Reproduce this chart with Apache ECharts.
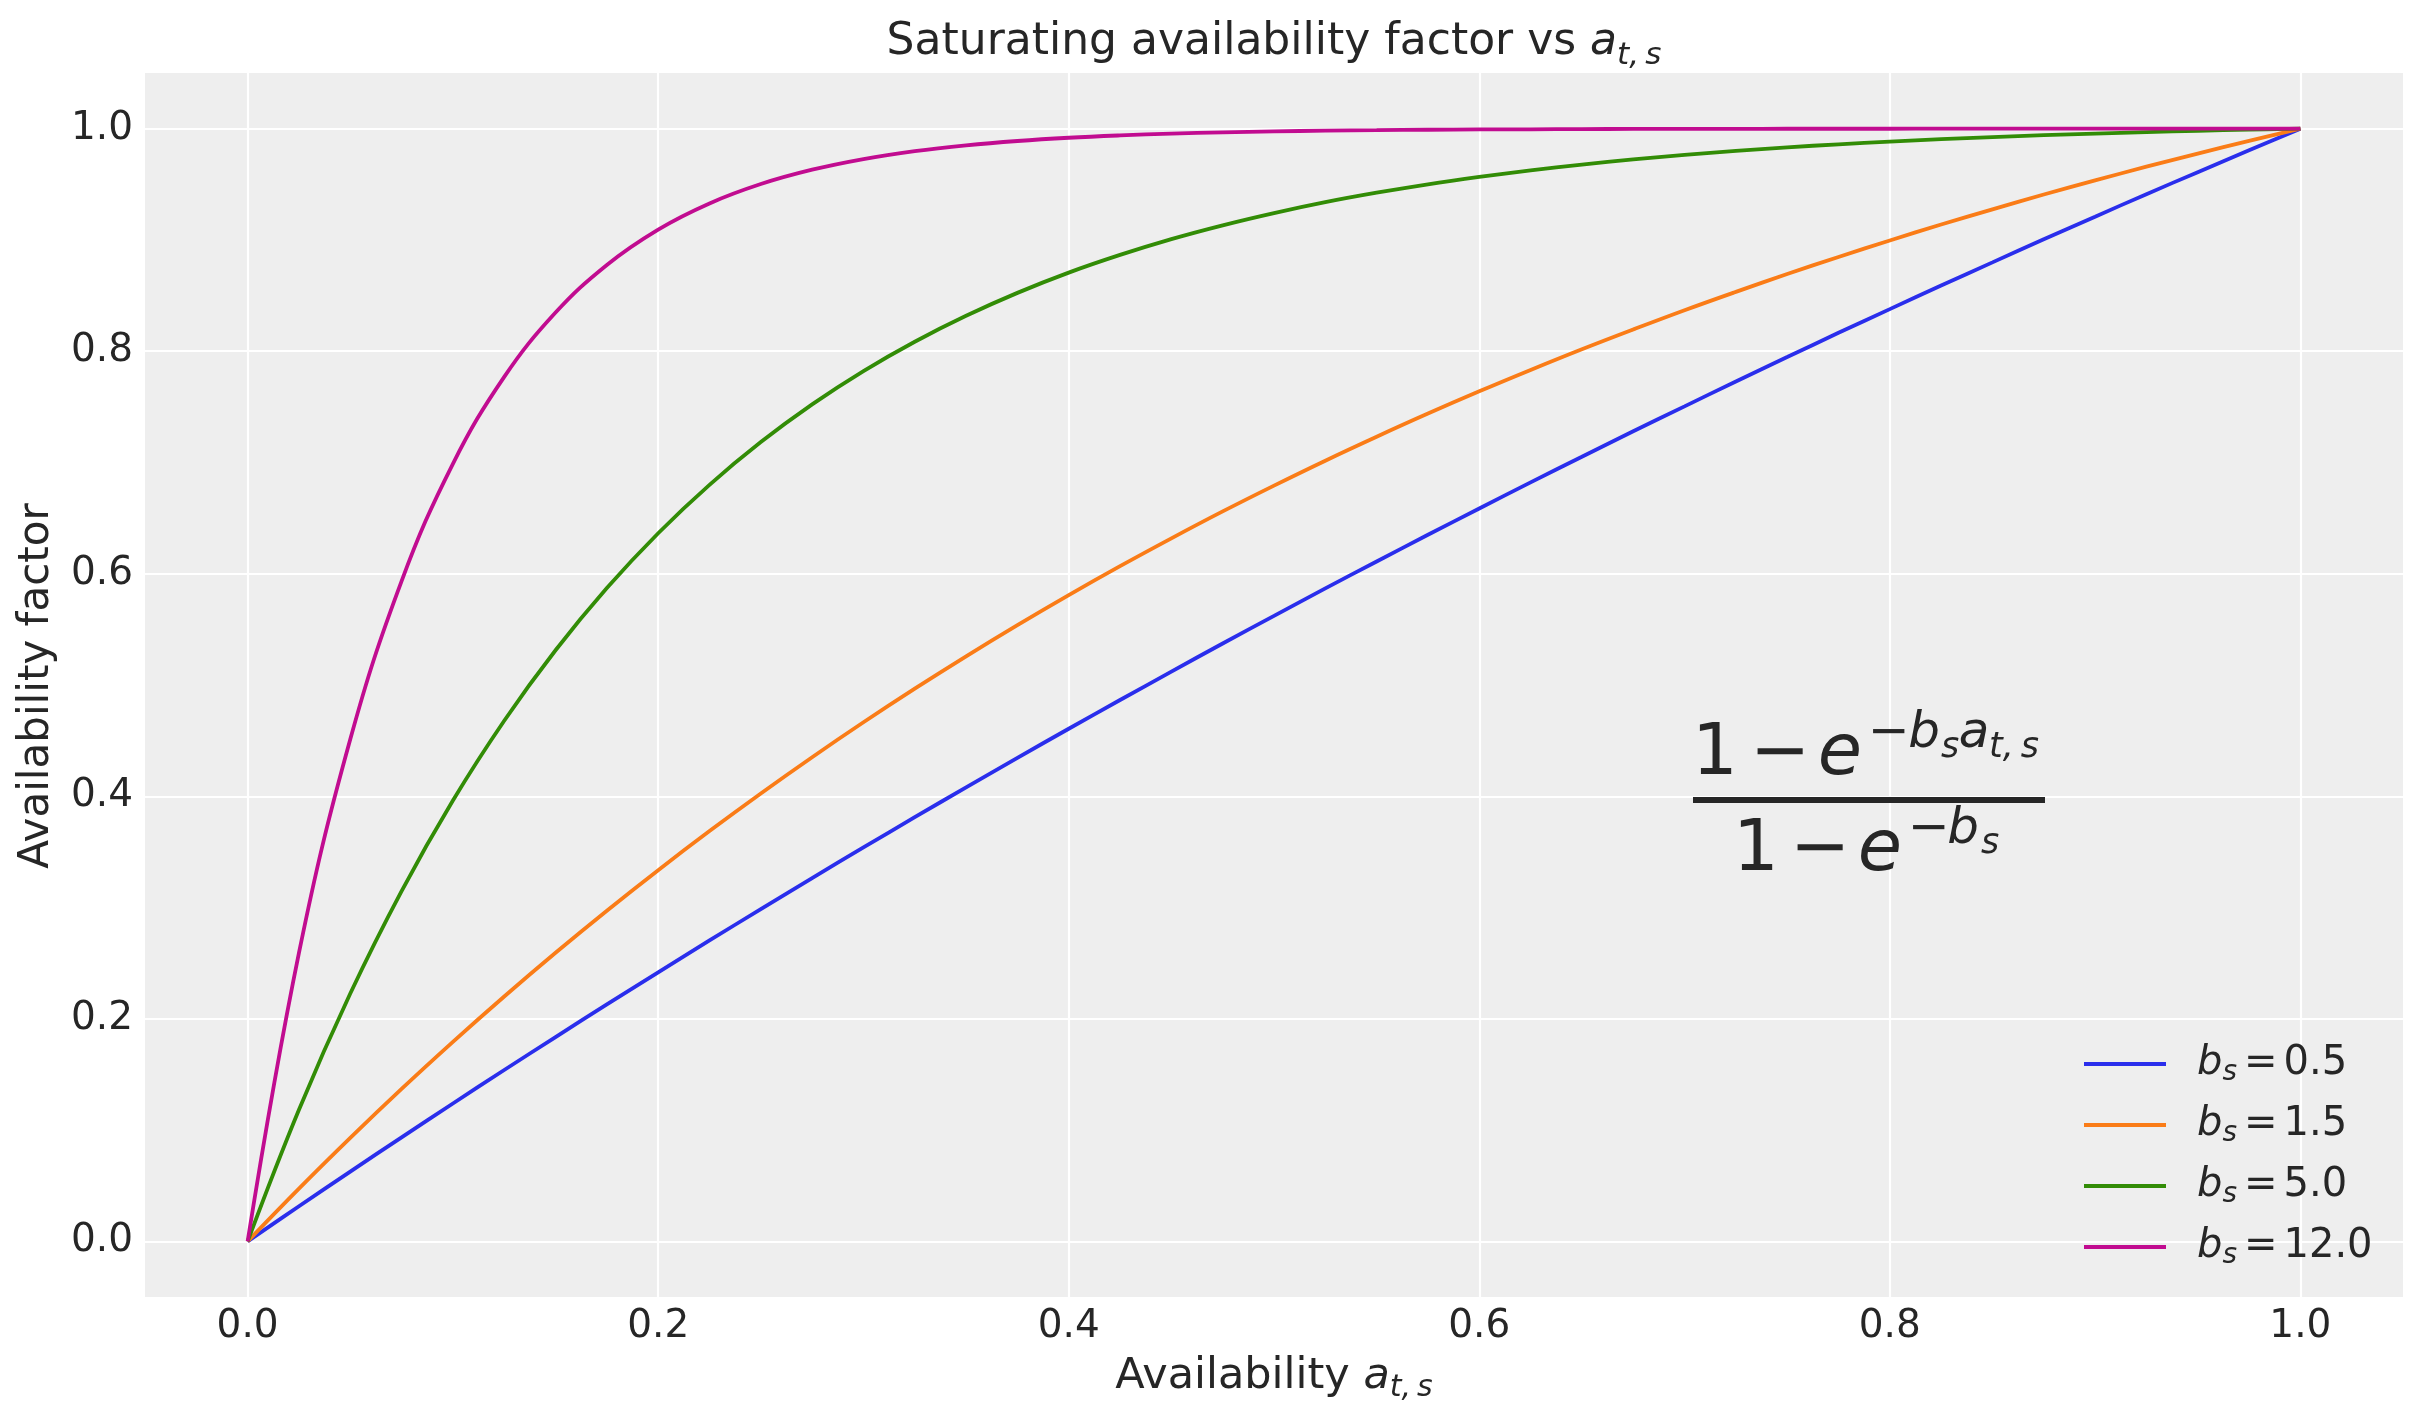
<!DOCTYPE html>
<html>
<head>
<meta charset="utf-8">
<script src="https://cdn.jsdelivr.net/npm/echarts@6/dist/echarts.min.js"></script>
<style>
  html, body { margin: 0; padding: 0; background: #ffffff; }
  #chart { width: 2423px; height: 1423px; }
</style>
</head>
<body>
<div id="chart"></div>
<script>
// values, every 0.025 along the x axis
var availability = [0, 0.025, 0.05, 0.075, 0.1, 0.125, 0.15, 0.175, 0.2, 0.225, 0.25, 0.275, 0.3, 0.325, 0.35, 0.375, 0.4, 0.425, 0.45, 0.475, 0.5,
    0.525, 0.55, 0.575, 0.6, 0.625, 0.65, 0.675, 0.7, 0.725, 0.75, 0.775, 0.8, 0.825, 0.85, 0.875, 0.9, 0.925, 0.95, 0.975, 1.0];
var factorB05 = [0, 0.0316, 0.0627, 0.0935, 0.1239, 0.1540, 0.1836, 0.2129, 0.2418, 0.2704, 0.2986, 0.3265, 0.3540, 0.3812, 0.4080, 0.4345, 0.4607, 0.4865, 0.5120, 0.5373, 0.5621,
    0.5868, 0.6110, 0.6350, 0.6586, 0.6821, 0.7051, 0.7280, 0.7504, 0.7728, 0.7947, 0.8165, 0.8378, 0.8590, 0.8798, 0.9006, 0.9209, 0.9411, 0.9609, 0.9806, 1.0];
var factorB15 = [0, 0.0474, 0.0930, 0.1370, 0.1793, 0.2201, 0.2594, 0.2972, 0.3336, 0.3687, 0.4025, 0.4351, 0.4665, 0.4967, 0.5258, 0.5538, 0.5808, 0.6068, 0.6318, 0.6560, 0.6792,
    0.7016, 0.7231, 0.7439, 0.7639, 0.7831, 0.8017, 0.8195, 0.8368, 0.8533, 0.8693, 0.8847, 0.8995, 0.9138, 0.9275, 0.9408, 0.9535, 0.9658, 0.9776, 0.9890, 1.0];
var factorB5 = [0, 0.1183, 0.2227, 0.3148, 0.3962, 0.4679, 0.5312, 0.5871, 0.6364, 0.6799, 0.7183, 0.7522, 0.7821, 0.8085, 0.8318, 0.8524, 0.8706, 0.8865, 0.9007, 0.9131, 0.9241,
    0.9339, 0.9424, 0.9500, 0.9566, 0.9625, 0.9677, 0.9723, 0.9764, 0.9800, 0.9832, 0.9859, 0.9884, 0.9905, 0.9924, 0.9941, 0.9956, 0.9969, 0.9981, 0.9991, 1.0];
var factorB12 = [0, 0.2592, 0.4512, 0.5934, 0.6988, 0.7769, 0.8347, 0.8775, 0.9093, 0.9328, 0.9502, 0.9631, 0.9727, 0.9798, 0.9850, 0.9889, 0.9918, 0.9939, 0.9955, 0.9967, 0.9975,
    0.9982, 0.9986, 0.9990, 0.9993, 0.9994, 0.9996, 0.9997, 0.9998, 0.9998, 0.9999, 0.9999, 0.9999, 1.0, 1.0, 1.0, 1.0, 1.0, 1.0, 1.0, 1.0];
var bLabels = ['0.5', '1.5', '5.0', '12.0'];
var tickValues = [0, 0.2, 0.4, 0.6, 0.8, 1.0];

var colors = ['#2a2eec', '#fa7c17', '#328c06', '#c10c90'];
var textColor = '#262626';
var FONT = '"DejaVu Sans", sans-serif';
var MID = 0.33; // canvas 'middle' sits this far above the baseline (em)

var chart = echarts.init(document.getElementById('chart'));
var ctx = document.createElement('canvas').getContext('2d');

function pairs(ys) {
    return availability.map(function (x, i) { return [x, ys[i]]; });
}

function textEl(str, x, baseline, size, italic, align) {
    return {
        type: 'text',
        x: x,
        y: baseline - MID * size,
        z: 100,
        silent: true,
        style: {
            text: str,
            fill: textColor,
            fontFamily: FONT,
            fontSize: size,
            fontStyle: italic ? 'italic' : 'normal',
            align: align || 'left',
            verticalAlign: 'middle'
        }
    };
}

// lay a run of [text, size, italic, dy] pieces side by side, centred on cx
function textRun(parts, cx, baseline) {
    var widths = parts.map(function (p) {
        ctx.font = (p[2] ? 'italic ' : '') + p[1] + 'px ' + FONT;
        return ctx.measureText(p[0]).width;
    });
    var total = widths.reduce(function (a, b) { return a + b; }, 0);
    var x = cx - total / 2;
    var out = [];
    parts.forEach(function (p, i) {
        out.push(textEl(p[0], x, baseline + p[3], p[1], p[2], 'left'));
        x += widths[i];
    });
    return out;
}

var graphics = [];
graphics = graphics.concat(textRun([
    ['Saturating availability factor vs ', 44, false, 0],
    ['a', 44, true, 0],
    ['t,\u2009s', 31, true, 9]
], 1274, 57));
graphics = graphics.concat(textRun([
    ['Availability ', 43, false, 0],
    ['a', 43, true, 0],
    ['t,\u2009s', 30, true, 7]
], 1274, 1391));
graphics.push({
    type: 'text',
    x: 51 - MID * 42,
    y: 686,
    rotation: Math.PI / 2,
    z: 100,
    silent: true,
    style: {
        text: 'Availability factor',
        fill: textColor,
        fontFamily: FONT,
        fontSize: 42,
        align: 'center',
        verticalAlign: 'middle'
    }
});

// the formula annotation: [text, centre x, baseline, size, italic]
var formula = [
    ['1', 1715, 779, 72, false], ['\u2212', 1780, 779, 72, false], ['e', 1840, 779, 72, true],
    ['\u2212', 1889, 751, 50, false], ['b', 1924, 751, 50, true], ['s', 1950, 759, 35, true],
    ['a', 1974, 751, 50, true], ['t,\u2009s', 2014, 759, 35, true],
    ['1', 1756, 875, 72, false], ['\u2212', 1820, 875, 72, false], ['e', 1880, 875, 72, true],
    ['\u2212', 1929, 847, 50, false], ['b', 1963, 847, 50, true], ['s', 1990, 855, 35, true]
];
formula.forEach(function (f) {
    graphics.push(textEl(f[0], f[1], f[2], f[3], f[4], 'center'));
});
graphics.push({
    type: 'rect',
    z: 100,
    silent: true,
    shape: { x: 1693, y: 797, width: 352, height: 6 },
    style: { fill: textColor }
});

var series = [factorB05, factorB15, factorB5, factorB12].map(function (ys, i) {
    return {
        name: bLabels[i],
        type: 'line',
        data: pairs(ys),
        symbol: 'none',
        smooth: 0.4,
        lineStyle: { color: colors[i], width: 3.8 },
        itemStyle: { color: colors[i] }
    };
});

var option = {
    animation: false,
    backgroundColor: '#ffffff',
    grid: {
        left: 145,
        top: 73,
        width: 2258,
        height: 1224,
        show: true,
        backgroundColor: '#eeeeee',
        borderWidth: 0
    },
    xAxis: {
        type: 'value',
        min: -0.05,
        max: 1.05,
        axisLine: { show: false },
        axisTick: { show: false, customValues: tickValues },
        axisLabel: {
            customValues: tickValues,
            margin: 10,
            color: textColor,
            fontFamily: FONT,
            fontSize: 39,
            formatter: function (v) { return v.toFixed(1); }
        },
        splitLine: { show: true, lineStyle: { color: '#ffffff', width: 2.2 } }
    },
    yAxis: {
        type: 'value',
        min: -0.05,
        max: 1.05,
        axisLine: { show: false },
        axisTick: { show: false, customValues: tickValues },
        axisLabel: {
            customValues: tickValues,
            margin: 12,
            color: textColor,
            fontFamily: FONT,
            fontSize: 39,
            formatter: function (v) { return v.toFixed(1); }
        },
        splitLine: { show: true, lineStyle: { color: '#ffffff', width: 2.2 } }
    },
    legend: {
        orient: 'vertical',
        left: 2084,
        top: 1041,
        padding: 0,
        itemGap: 15,
        itemWidth: 82,
        itemHeight: 4,
        icon: 'rect',
        align: 'left',
        data: bLabels,
        formatter: function (name) {
            return '{b|b}{s|s}{eq|=}{n|' + name + '}';
        },
        textStyle: {
            color: textColor,
            fontFamily: FONT,
            fontSize: 40,
            rich: {
                b: { fontFamily: FONT, fontStyle: 'italic', fontSize: 40, lineHeight: 44, padding: [0, 0, 0, 26], color: textColor },
                s: { fontFamily: FONT, fontStyle: 'italic', fontSize: 28, lineHeight: 26, padding: [18, 0, 0, 0], color: textColor },
                eq: { fontFamily: FONT, fontSize: 40, lineHeight: 44, padding: [0, 6, 0, 7], color: textColor },
                n: { fontFamily: FONT, fontSize: 40, lineHeight: 44, color: textColor }
            }
        }
    },
    graphic: graphics,
    series: series
};
chart.setOption(option);
</script>
</body>
</html>
